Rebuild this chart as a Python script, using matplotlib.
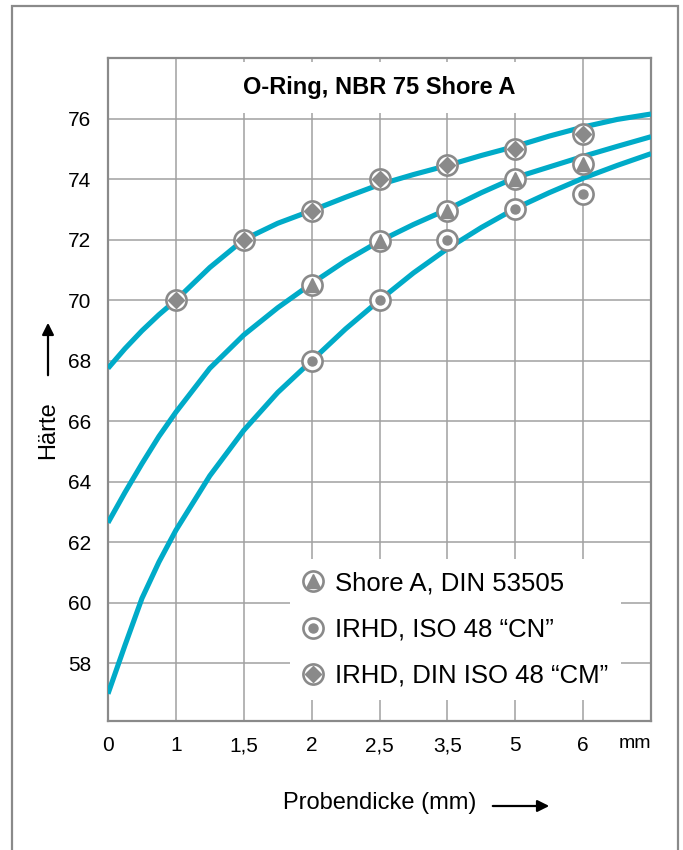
import matplotlib
matplotlib.use("Agg")
import matplotlib.pyplot as plt
from matplotlib.lines import Line2D
from matplotlib.patches import Rectangle, FancyArrowPatch
from matplotlib.legend_handler import HandlerTuple

# category labels on the x axis (equally spaced)
tick_labels = ["0", "1", "1,5", "2", "2,5", "3,5", "5", "6"]
y_ticks = [58, 60, 62, 64, 66, 68, 70, 72, 74, 76]

# curve values, positions in tick-index units
curve_x = [0, 0.25, 0.5, 0.75, 1, 1.5, 2, 2.5, 3, 3.5, 4, 4.5, 5, 5.5, 6, 6.5, 7, 7.5, 8]
curve_cm = [67.75, 68.4, 68.99, 69.52, 70.0, 71.08, 72.0, 72.54, 72.96, 73.4, 73.82,
            74.15, 74.45, 74.78, 75.08, 75.42, 75.72, 75.97, 76.15]
curve_shore = [62.65, 63.65, 64.6, 65.5, 66.3, 67.75, 68.85, 69.75, 70.55, 71.3, 71.95,
               72.5, 73.0, 73.55, 74.05, 74.4, 74.75, 75.08, 75.4]
curve_cn = [57.0, 58.6, 60.15, 61.35, 62.4, 64.2, 65.7, 66.95, 68.0, 69.05, 70.0,
            70.9, 71.7, 72.4, 73.03, 73.55, 74.03, 74.45, 74.84]

# measured points
cm_x = [1, 2, 3, 4, 5, 6, 7]
cm_y = [70, 72, 72.95, 74, 74.47, 75, 75.5]
shore_x = [3, 4, 5, 6, 7]
shore_y = [70.5, 71.95, 72.95, 74.0, 74.5]
cn_x = [3, 4, 5, 6, 7]
cn_y = [68, 70, 72, 73, 73.5]

TEAL = "#00abc8"
GREY = "#8a8a8a"
GRID = "#a0a0a0"
FONT = ["Liberation Sans", "DejaVu Sans"]

fig = plt.figure(figsize=(6.83, 8.5), dpi=100)
fig.patches.append(Rectangle((12 / 683, -0.01), 666 / 683, (850 - 6) / 850 + 0.01,
                             transform=fig.transFigure, fill=False,
                             edgecolor=GREY, linewidth=1.6))

ax = fig.add_axes([108 / 683, 129 / 850, 543 / 683, 663 / 850])
ax.set_xlim(0, 8)
ax.set_ylim(56.1, 78)

ax.set_xticks(range(len(tick_labels)))
ax.set_xticklabels(tick_labels, family=FONT, fontsize=15)
ax.set_yticks(y_ticks)
ax.set_yticklabels([str(v) for v in y_ticks], family=FONT, fontsize=15)
ax.tick_params(length=0)
ax.tick_params(axis="x", pad=11)
ax.tick_params(axis="y", pad=12)
fig.text(635 / 683, 1 - 744 / 850, "mm", ha="center", va="center",
         family=FONT, fontsize=14)

for v in y_ticks:
    ax.axhline(v, color=GRID, lw=1.1, zorder=1)
for i in range(1, 8):
    ax.axvline(i, color=GRID, lw=1.1, zorder=1)
for s in ax.spines.values():
    s.set_color(GREY)
    s.set_linewidth(1.6)

for ys in (curve_cm, curve_shore, curve_cn):
    ax.plot(curve_x, ys, color=TEAL, lw=3.7, solid_capstyle="butt", zorder=3)

ring = dict(marker="o", markersize=14.5, markerfacecolor="white", markeredgecolor=GREY,
            markeredgewidth=1.9, linestyle="none", zorder=5)
inner = dict(color=GREY, linestyle="none", zorder=6)
ax.plot(cm_x, cm_y, **ring)
ax.plot(cm_x, cm_y, marker="D", markersize=8, **inner)
ax.plot(shore_x, shore_y, **ring)
ax.plot(shore_x, shore_y, marker="^", markersize=9.5, **inner)
ax.plot(cn_x, cn_y, **ring)
ax.plot(cn_x, cn_y, marker="o", markersize=6.5, **inner)

# title with white box breaking the grid
ax.text(0.5, 0.955, "O-Ring, NBR 75 Shore A", transform=ax.transAxes, ha="center",
        va="center", family=FONT, fontsize=17, fontweight="bold", zorder=4,
        bbox=dict(facecolor="white", edgecolor="none", pad=10))


def handle(mk, ms):
    r = Line2D([], [], marker="o", markersize=14.5, markerfacecolor="white",
               markeredgecolor=GREY, markeredgewidth=1.9, linestyle="none")
    m = Line2D([], [], marker=mk, markersize=ms, color=GREY, linestyle="none")
    return (r, m)


leg = ax.legend([handle("^", 9.5), handle("o", 6.5), handle("D", 8)],
                ["Shore A, DIN 53505", "IRHD, ISO 48 \u201cCN\u201d",
                 "IRHD, DIN ISO 48 \u201cCM\u201d"],
                handler_map={tuple: HandlerTuple(ndivide=1, pad=0)},
                loc="upper left", bbox_to_anchor=(0.335, 0.245),
                frameon=True, fancybox=False, framealpha=1, edgecolor="none",
                facecolor="white", prop={"family": FONT, "size": 18.5},
                handlelength=0.8, handletextpad=0.45, labelspacing=0.86,
                borderpad=0.5, borderaxespad=0)
leg.set_zorder(4)

# axis labels with arrows
fig.text(48 / 683, 1 - 430 / 850, "H\u00e4rte", rotation=90, ha="center", va="center",
         family=FONT, fontsize=17)
fig.add_artist(FancyArrowPatch(
    (48 / 683, 1 - 378 / 850), (48 / 683, 1 - 320 / 850), transform=fig.transFigure,
    arrowstyle="-|>,head_length=7,head_width=3.5", color="black", lw=1.6))
fig.text(380 / 683, 1 - 803 / 850, "Probendicke (mm)", ha="center", va="center",
         family=FONT, fontsize=17)
fig.add_artist(FancyArrowPatch(
    (490 / 683, 1 - 806 / 850), (552 / 683, 1 - 806 / 850), transform=fig.transFigure,
    arrowstyle="-|>,head_length=7,head_width=3.5", color="black", lw=1.6))

fig.savefig("out.png", dpi=100)
